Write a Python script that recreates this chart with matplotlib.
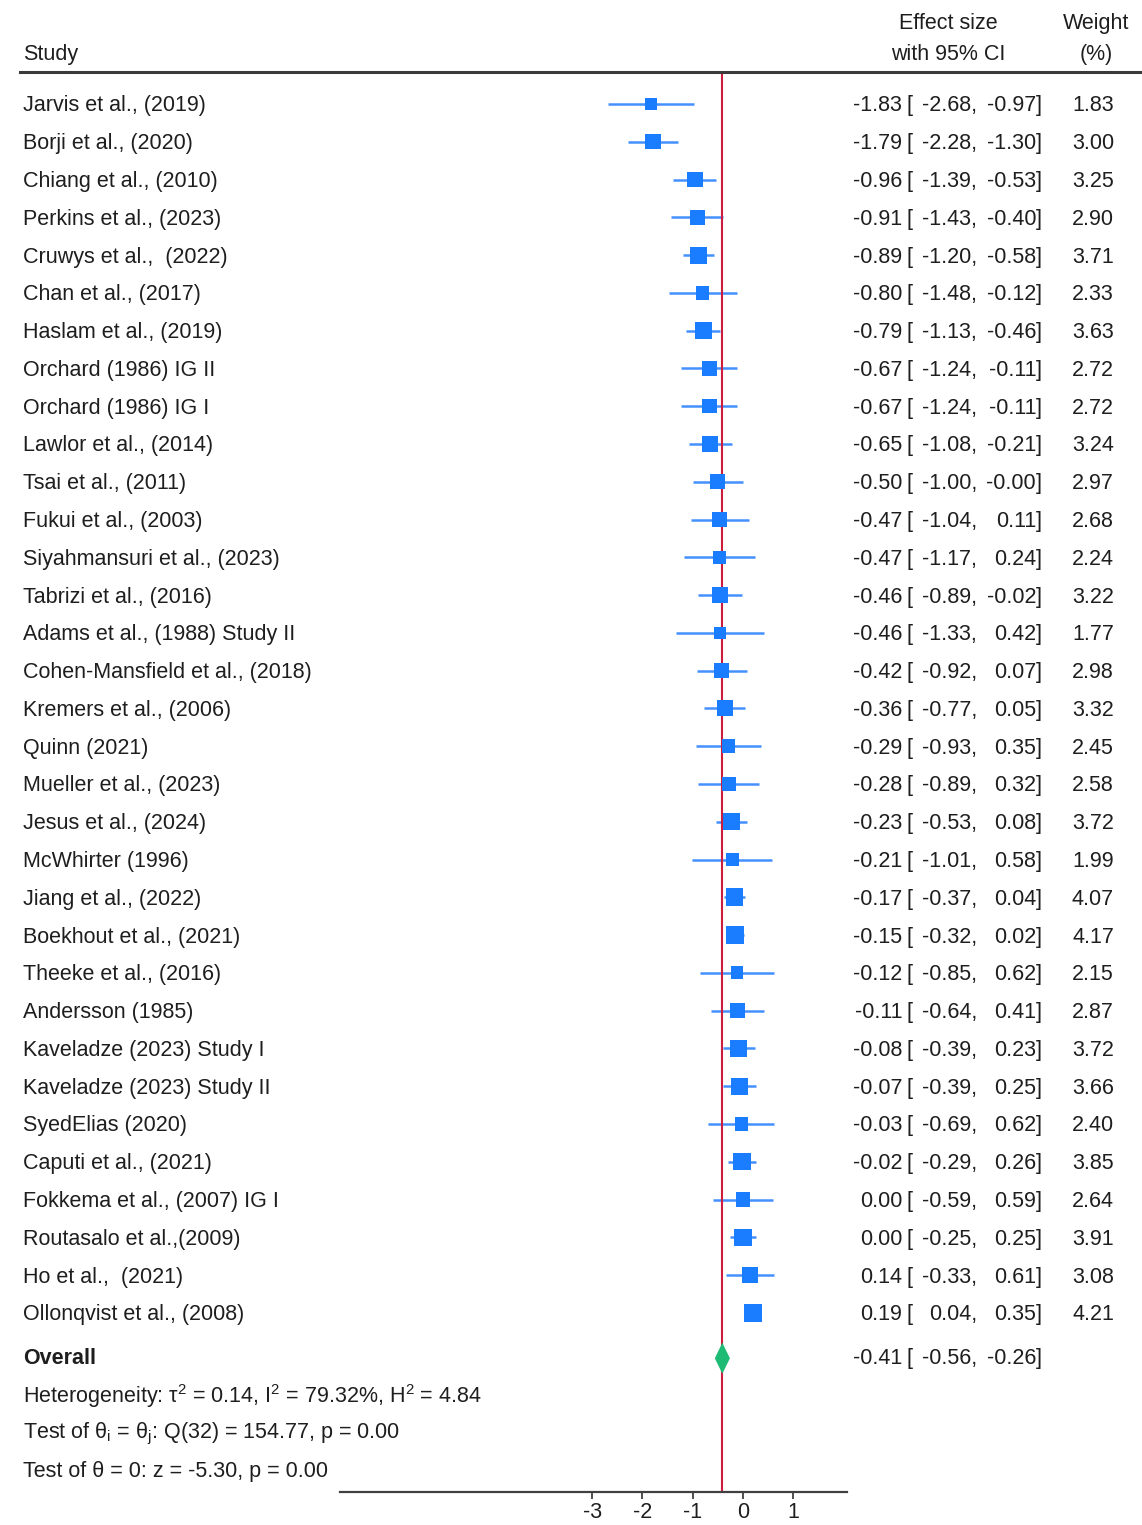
import matplotlib
matplotlib.use('Agg')
import matplotlib.pyplot as plt
from matplotlib.transforms import blended_transform_factory
from matplotlib.lines import Line2D

studies = ['Jarvis et al., (2019)', 'Borji et al., (2020)', 'Chiang et al., (2010)',
           'Perkins et al., (2023)', 'Cruwys et al.,  (2022)', 'Chan et al., (2017)',
           'Haslam et al., (2019)', 'Orchard (1986) IG II', 'Orchard (1986) IG I',
           'Lawlor et al., (2014)', 'Tsai et al., (2011)', 'Fukui et al., (2003)',
           'Siyahmansuri et al., (2023)', 'Tabrizi et al., (2016)',
           'Adams et al., (1988) Study II', 'Cohen-Mansfield et al., (2018)',
           'Kremers et al., (2006)', 'Quinn (2021)', 'Mueller et al., (2023)',
           'Jesus et al., (2024)', 'McWhirter (1996)', 'Jiang et al., (2022)',
           'Boekhout et al., (2021)', 'Theeke et al., (2016)', 'Andersson (1985)',
           'Kaveladze (2023) Study I', 'Kaveladze (2023) Study II', 'SyedElias (2020)',
           'Caputi et al., (2021)', 'Fokkema et al., (2007) IG I',
           'Routasalo et al.,(2009)', 'Ho et al.,  (2021)', 'Ollonqvist et al., (2008)']
effect = [-1.83, -1.79, -0.96, -0.91, -0.89, -0.80, -0.79, -0.67, -0.67, -0.65, -0.50,
          -0.47, -0.47, -0.46, -0.46, -0.42, -0.36, -0.29, -0.28, -0.23, -0.21, -0.17,
          -0.15, -0.12, -0.11, -0.08, -0.07, -0.03, -0.02, 0.00, 0.00, 0.14, 0.19]
lower = [-2.68, -2.28, -1.39, -1.43, -1.20, -1.48, -1.13, -1.24, -1.24, -1.08, -1.00,
         -1.04, -1.17, -0.89, -1.33, -0.92, -0.77, -0.93, -0.89, -0.53, -1.01, -0.37,
         -0.32, -0.85, -0.64, -0.39, -0.39, -0.69, -0.29, -0.59, -0.25, -0.33, 0.04]
upper = [-0.97, -1.30, -0.53, -0.40, -0.58, -0.12, -0.46, -0.11, -0.11, -0.21, -0.0,
         0.11, 0.24, -0.02, 0.42, 0.07, 0.05, 0.35, 0.32, 0.08, 0.58, 0.04,
         0.02, 0.62, 0.41, 0.23, 0.25, 0.62, 0.26, 0.59, 0.25, 0.61, 0.35]
weight = [1.83, 3.00, 3.25, 2.90, 3.71, 2.33, 3.63, 2.72, 2.72, 3.24, 2.97, 2.68, 2.24,
          3.22, 1.77, 2.98, 3.32, 2.45, 2.58, 3.72, 1.99, 4.07, 4.17, 2.15, 2.87, 3.72,
          3.66, 2.40, 3.85, 2.64, 3.91, 3.08, 4.21]
overall = -0.41
overall_ci = (-0.56, -0.26)
het_lines = [r'Heterogeneity: τ$^2$ = 0.14, I$^2$ = 79.32%, H$^2$ = 4.84',
             r'Test of θ$_\mathrm{i}$ = θ$_\mathrm{j}$: Q(32) = 154.77, p = 0.00',
             'Test of θ = 0: z = -5.30, p = 0.00']

plt.rcParams['font.family'] = ['Liberation Sans', 'DejaVu Sans']
plt.rcParams['mathtext.fontset'] = 'custom'
plt.rcParams['mathtext.rm'] = 'Liberation Sans'
plt.rcParams['mathtext.it'] = 'Liberation Sans:italic'
plt.rcParams['axes.unicode_minus'] = False

W, H = 1142, 1525
fig = plt.figure(figsize=(W / 100, H / 100), dpi=100)
ax = fig.add_axes([340 / W, (H - 1492) / H, (847 - 340) / W, (1492 - 72) / H])

n = len(studies)
rows = list(range(n))
y_overall = n + 0.2
fs = 15.5
tc = '#1e1e1e'

ax.set_xlim(-8.012, 2.068)
ax.set_ylim(36.74, -0.847)

# CI lines and squares
for i in rows:
    ax.plot([lower[i], upper[i]], [i, i], color='#4590ff', lw=1.8, zorder=2,
            solid_capstyle='butt')
ax.scatter(effect, rows, s=[40 * w for w in weight], marker='s', color='#1a7cff',
           linewidths=0, zorder=3)

# overall line and diamond
ax.axvline(overall, color='#cc1d3f', lw=1.5, zorder=2.5)
ax.fill([overall_ci[0], overall, overall_ci[1], overall],
        [y_overall, y_overall - 0.41, y_overall, y_overall + 0.41],
        color='#1dbb74', zorder=4, lw=0)

# axis
for s in ['top', 'right', 'left']:
    ax.spines[s].set_visible(False)
ax.spines['bottom'].set_color('#404040')
ax.spines['bottom'].set_linewidth(1.6)
ax.set_yticks([])
ax.set_xticks([-3, -2, -1, 0, 1])
ax.tick_params(axis='x', length=5, width=1.3, color='#404040', labelsize=fs,
               labelcolor=tc, pad=2)

tr = blended_transform_factory(fig.transFigure, ax.transData)


def px(x):
    return x / W


def ci_text(y, est, lo, hi, wt=None):
    ax.text(px(902), y, f'{est:.2f}', transform=tr, ha='right', va='center',
            fontsize=fs, color=tc)
    ax.text(px(906), y, '[', transform=tr, ha='left', va='center', fontsize=fs, color=tc)
    ax.text(px(977), y, f'{lo:.2f},', transform=tr, ha='right', va='center',
            fontsize=fs, color=tc)
    ax.text(px(1036), y, f'{hi:.2f}', transform=tr, ha='right', va='center',
            fontsize=fs, color=tc)
    ax.text(px(1036), y, ']', transform=tr, ha='left', va='center', fontsize=fs, color=tc)
    if wt is not None:
        ax.text(px(1114), y, f'{wt:.2f}', transform=tr, ha='right', va='center',
                fontsize=fs, color=tc)


for i in rows:
    ax.text(px(23), i + 0.05, studies[i], transform=tr, ha='left', va='center',
            fontsize=fs, color=tc)
    ci_text(i + 0.05, effect[i], lower[i], upper[i], weight[i])

ax.text(px(23), y_overall, 'Overall', transform=tr, ha='left', va='center',
        fontsize=fs, color=tc, fontweight='bold')
ci_text(y_overall, overall, overall_ci[0], overall_ci[1])
for k, line in enumerate(het_lines):
    ax.text(px(23), y_overall + 1 + k, line, transform=tr, ha='left', va='center',
            fontsize=fs, color=tc)

# header
ax.text(px(23), -1.32, 'Study', transform=tr, ha='left', va='center', fontsize=fs, color=tc)
ax.text(px(948), -2.14, 'Effect size', transform=tr, ha='center', va='center',
        fontsize=fs, color=tc)
ax.text(px(948), -1.32, 'with 95% CI', transform=tr, ha='center', va='center',
        fontsize=fs, color=tc)
ax.text(px(1096), -2.14, 'Weight', transform=tr, ha='center', va='center',
        fontsize=fs, color=tc)
ax.text(px(1096), -1.32, '(%)', transform=tr, ha='center', va='center',
        fontsize=fs, color=tc)
fig.add_artist(Line2D([px(20), px(1141)], [(H - 72) / H, (H - 72) / H],
                      transform=fig.transFigure, color='#3a3a3a', lw=2.2))

fig.savefig('out.png', dpi=100)
